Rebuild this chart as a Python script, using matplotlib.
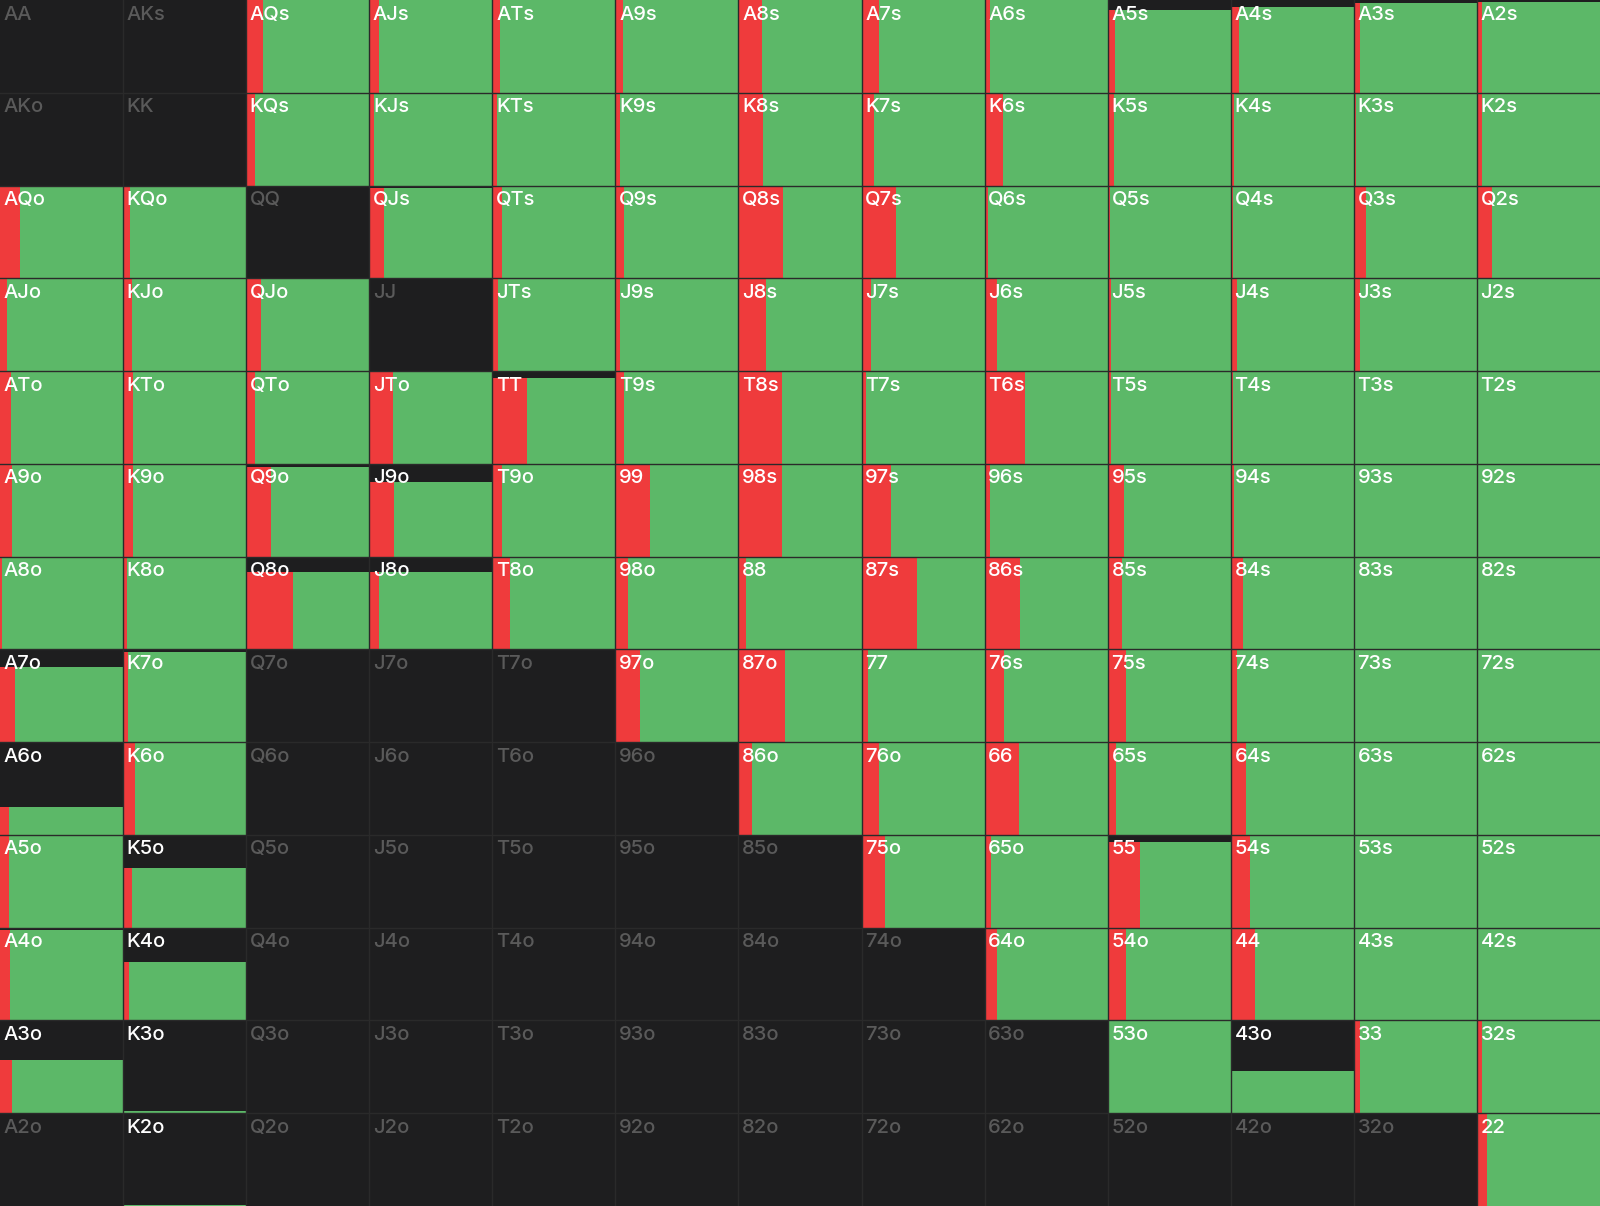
import numpy as np
import matplotlib.pyplot as plt

ranks = ['A', 'K', 'Q', 'J', 'T', '9', '8', '7', '6', '5', '4', '3', '2']

# share of combos played (bar height)
freq = np.array([
    [0, 0, 1, 1, 1, 1, 1, 1, 1, .89, .92, .97, .98],
    [0, 0, 1, 1, 1, 1, 1, 1, 1, 1, 1, 1, 1],
    [1, 1, 0, .97, 1, 1, 1, 1, 1, 1, 1, 1, 1],
    [1, 1, 1, 0, 1, 1, 1, 1, 1, 1, 1, 1, 1],
    [1, 1, 1, 1, .92, 1, 1, 1, 1, 1, 1, 1, 1],
    [1, 1, .97, .8, 1, 1, 1, 1, 1, 1, 1, 1, 1],
    [1, 1, .83, .83, 1, 1, 1, 1, 1, 1, 1, 1, 1],
    [.81, .97, 0, 0, 0, 1, 1, 1, 1, 1, 1, 1, 1],
    [.3, 1, 0, 0, 0, 0, 1, 1, 1, 1, 1, 1, 1],
    [1, .64, 0, 0, 0, 0, 0, 1, 1, .92, 1, 1, 1],
    [.97, .63, 0, 0, 0, 0, 0, 0, 1, 1, 1, 1, 1],
    [.57, .02, 0, 0, 0, 0, 0, 0, 0, 1, .45, 1, 1],
    [0, .01, 0, 0, 0, 0, 0, 0, 0, 0, 0, 0, 1],
])

# red share of the played part (bar width from left)
red = np.array([
    [0, 0, .14, .08, .06, .06, .19, .14, .04, .06, .07, .05, .04],
    [0, 0, .07, .04, .04, .04, .2, .1, .15, .05, .03, .02, .04],
    [.16, .06, 0, .12, .08, .07, .36, .28, .03, .02, .02, .1, .12],
    [.06, .07, .12, 0, .05, .04, .22, .08, .1, .03, .05, .05, .01],
    [.09, .08, .07, .19, .28, .07, .35, .04, .33, .03, .02, .01, .01],
    [.1, .08, .2, .2, .08, .28, .35, .24, .04, .13, .03, .01, .01],
    [.02, .03, .38, .08, .14, .1, .06, .45, .29, .12, .1, .01, .01],
    [.12, .04, 0, 0, 0, .2, .38, .05, .16, .15, .05, .01, .01],
    [.07, .1, 0, 0, 0, 0, .11, .14, .28, .07, .12, .01, .01],
    [.07, .07, 0, 0, 0, 0, 0, .19, .05, .26, .16, .01, .01],
    [.08, .05, 0, 0, 0, 0, 0, 0, .1, .15, .2, .01, .01],
    [.1, 0, 0, 0, 0, 0, 0, 0, 0, 0, 0, .05, .04],
    [0, 0, 0, 0, 0, 0, 0, 0, 0, 0, 0, 0, .08],
])

GREEN = '#5cb868'
RED = '#ef3b3c'
DARK = '#1e1e1f'


def hand(i, j):
    if i == j:
        return ranks[i] + ranks[j]
    if j > i:
        return ranks[i] + ranks[j] + 's'
    return ranks[j] + ranks[i] + 'o'


fig = plt.figure(figsize=(16, 12.06), dpi=100, facecolor=DARK)
ax = fig.add_axes([0, 0, 1, 1])
ax.set_facecolor(DARK)
ax.set_xlim(0, 13)
ax.set_ylim(13, 0)
ax.axis('off')

for i in range(13):
    for j in range(13):
        f = freq[i, j]
        r = red[i, j]
        if f > 0:
            ax.bar(j, f, width=1, bottom=i + 1 - f, align='edge', color=GREEN, linewidth=0)
            if r > 0:
                ax.bar(j, f, width=r, bottom=i + 1 - f, align='edge', color=RED, linewidth=0)
        col = 'white' if f > 0 else '#5a5a5a'
        ax.text(j + 0.03, i + 0.06, hand(i, j), color=col, fontsize=14.5,
                family=['Inter', 'DejaVu Sans'], fontweight='medium', va='top', ha='left')

# grid lines
for k in range(1, 13):
    ax.axvline(k, color='#2a2a2a', lw=1)
    ax.axhline(k, color='#2a2a2a', lw=1)

fig.savefig('out.png', dpi=100, facecolor=DARK)
